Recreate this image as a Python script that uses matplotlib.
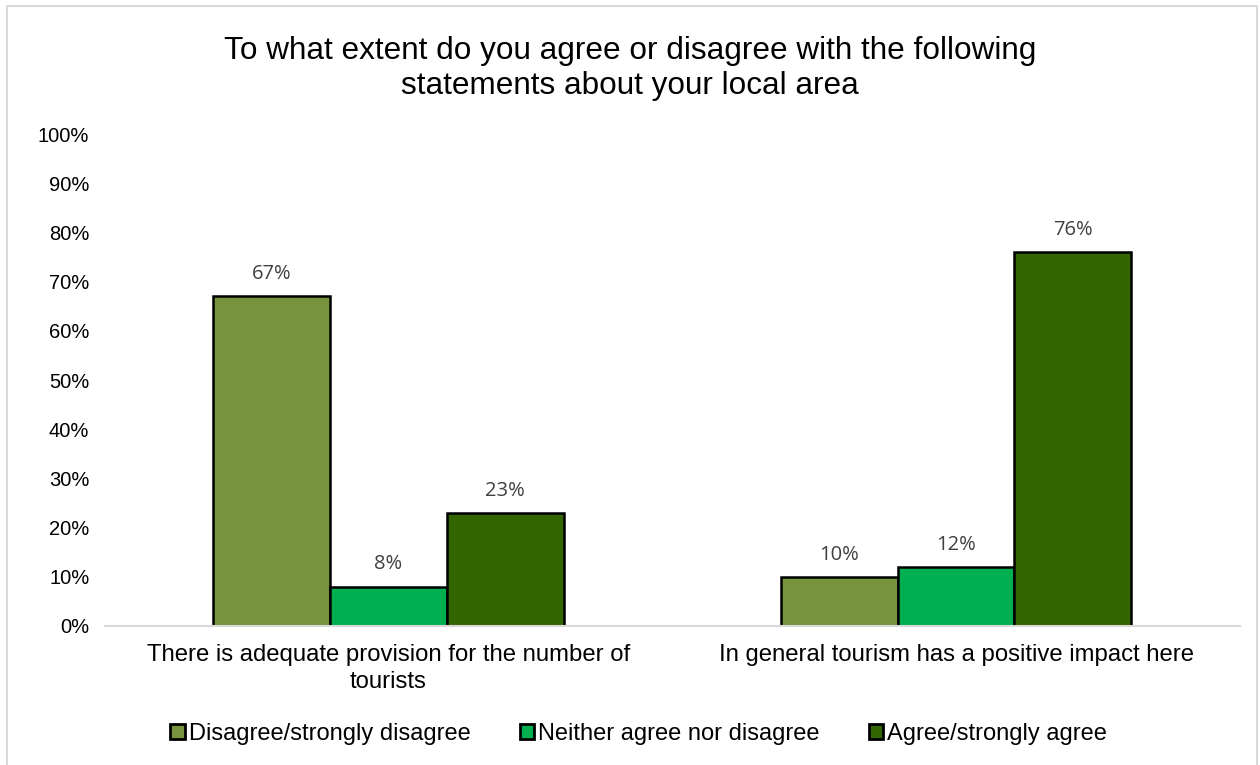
import matplotlib.pyplot as plt
import numpy as np
from matplotlib.patches import Rectangle

categories = ['There is adequate provision for the number of\ntourists',
              'In general tourism has a positive impact here']
series = ['Disagree/strongly disagree', 'Neither agree nor disagree', 'Agree/strongly agree']
disagree = [67, 10]
neither = [8, 12]
agree = [23, 76]
colors = ['#77933C', '#00B050', '#336600']

plt.rcParams['font.family'] = ['Liberation Sans', 'DejaVu Sans']

fig = plt.figure(figsize=(12.6, 7.65), dpi=100)
ax = fig.add_axes([0.083, 0.1817, 0.901, 0.6431])

x = np.arange(len(categories))
w = 0.206
for i, (vals, c, name) in enumerate(zip([disagree, neither, agree], colors, series)):
    bars = ax.bar(x + (i - 1) * w, vals, w, color=c, edgecolor='black', linewidth=1.8, label=name)
    for b, v in zip(bars, vals):
        ax.text(b.get_x() + b.get_width() / 2, v + 2.5, f'{v}%', ha='center', va='bottom',
                fontsize=14.5, color='#404040', family=['Open Sans', 'DejaVu Sans'])

ax.set_xlim(-0.5, 1.5)
ax.set_ylim(0, 100)
ax.set_yticks(range(0, 101, 10))
ax.set_yticklabels([f'{t}%' for t in range(0, 101, 10)], fontsize=14.5)
ax.set_xticks(x)
ax.set_xticklabels(categories, fontsize=17.2, linespacing=1.3)
ax.tick_params(length=0)
ax.tick_params(axis='y', pad=11)
ax.tick_params(axis='x', pad=13)
for s in ['top', 'right', 'left']:
    ax.spines[s].set_visible(False)
ax.spines['bottom'].set_color('#d9d9d9')
ax.spines['bottom'].set_linewidth(1.5)

fig.suptitle('To what extent do you agree or disagree with the following\nstatements about your local area',
             fontsize=22.7, y=0.953, linespacing=1.2)

leg = fig.legend(loc='center', bbox_to_anchor=(0.507, 0.041), ncol=3, frameon=False,
                 fontsize=17, handlelength=0.6, handleheight=0.6, handletextpad=0.17,
                 columnspacing=2.1)
for h in leg.legend_handles:
    h.set_linewidth(2)

# chart border
fig.patches.append(Rectangle((0.0055, -0.01), 0.992, 1.002, transform=fig.transFigure,
                             fill=False, edgecolor='#d9d9d9', linewidth=1.5))

fig.savefig('out.png', dpi=100)
